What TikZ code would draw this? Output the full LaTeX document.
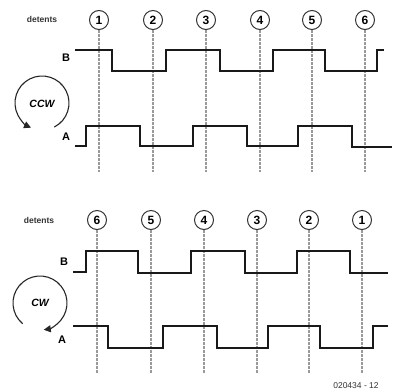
\documentclass[tikz,border=0pt]{standalone}
\usepackage{fontspec}
\setmainfont{Liberation Sans}
\usetikzlibrary{arrows.meta}
\begin{document}
\begin{tikzpicture}[x=1pt,y=-1pt,
  wave/.style={line width=1.6pt,color=black!90,line join=miter},
  detline/.style={line width=1.3pt,color=black!40,dash pattern=on 2.5pt off 1.5pt},
  numcirc/.style={circle,draw=black!80,line width=1pt,minimum size=19pt,inner sep=0pt,font=\fontsize{12}{12}\selectfont\bfseries},
  detlabel/.style={font=\fontsize{8.5}{8.5}\selectfont\bfseries,color=black!80},
  siglabel/.style={font=\fontsize{11}{11}\selectfont\bfseries},
  rotlabel/.style={font=\fontsize{10.5}{10.5}\selectfont\bfseries\itshape},
  rotarc/.style={line width=1.1pt,color=black!85,-{Triangle[length=7pt,width=7pt]}},
  refl/.style={font=\fontsize{8.5}{8.5}\selectfont,color=black!80}
]
\useasboundingbox (0,0) rectangle (395,391);
% ---------- top panel (CCW) ----------
\node[detlabel] (dt1) at (42,19) {detents};
\foreach \n/\x in {1/99,2/153,3/206,4/260,5/312,6/365}{
  \node[numcirc] (tc\n) at (\x,20) {\n};
  \coordinate (te\n) at (\x,172);
  \draw[detline] (tc\n.south) -- (te\n);
}
\node[siglabel] (tB) at (66,58) {B};
\node[siglabel] (tA) at (66,137) {A};
\draw[wave] (75,50) -- (112,50) -- (112,71) -- (166,71) -- (166,50) -- (220,50) -- (220,71)
  -- (273,71) -- (273,50) -- (325,50) -- (325,71) -- (377,71) -- (377,50) -- (384,50);
\draw[wave] (75,146) -- (86,146) -- (86,126) -- (140,126) -- (140,146) -- (193,146) -- (193,126)
  -- (247,126) -- (247,146) -- (298,146) -- (298,126) -- (352,126) -- (352,147) -- (392,147);
\node[rotlabel] (ccw) at (42,104) {CCW};
\draw[rotarc] (42,103) ++(63:27) arc[start angle=63,end angle=-246,radius=27];
% ---------- bottom panel (CW) ----------
\node[detlabel] (dt2) at (39,220) {detents};
\foreach \n/\x in {6/97,5/151,4/204,3/257,2/309,1/362}{
  \node[numcirc] (bc\n) at (\x,220) {\n};
  \coordinate (be\n) at (\x,374);
  \draw[detline] (bc\n.south) -- (be\n);
}
\node[siglabel] (bB) at (64,262) {B};
\node[siglabel] (bA) at (62,340) {A};
\draw[wave] (73,272) -- (86,272) -- (86,251) -- (138,251) -- (138,273) -- (191,273) -- (191,251)
  -- (245,251) -- (245,273) -- (297,273) -- (297,251) -- (350,251) -- (350,273) -- (388,273);
\draw[wave] (73,326) -- (108,326) -- (108,348) -- (163,348) -- (163,326) -- (217,326) -- (217,348)
  -- (268,348) -- (268,326) -- (320,326) -- (320,348) -- (373,348) -- (373,326) -- (388,326);
\node[rotlabel] (cw) at (40,303) {CW};
\draw[rotarc] (40,303) ++(130:27) arc[start angle=130,end angle=442,radius=27];
\node[refl] (ref) at (356,386) {020434 - 12};
\end{tikzpicture}
\end{document}
